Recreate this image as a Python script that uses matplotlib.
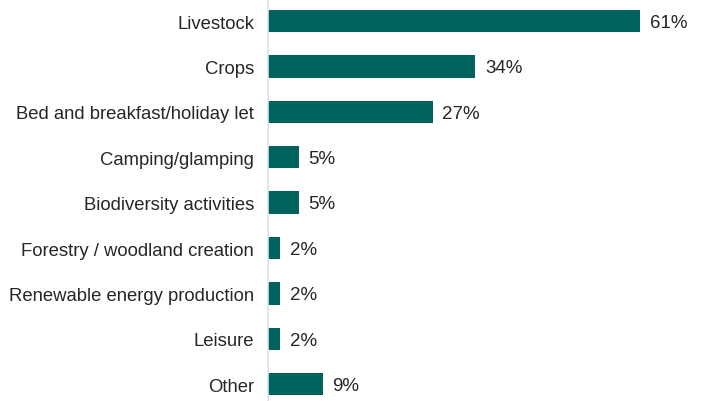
import matplotlib
matplotlib.use('Agg')
import matplotlib.pyplot as plt

categories = ['Livestock', 'Crops', 'Bed and breakfast/holiday let', 'Camping/glamping',
              'Biodiversity activities', 'Forestry / woodland creation',
              'Renewable energy production', 'Leisure', 'Other']
values = [61, 34, 27, 5, 5, 2, 2, 2, 9]
value_labels = ['61%', '34%', '27%', '5%', '5%', '2%', '2%', '2%', '9%']

plt.rcParams['font.family'] = ['Liberation Sans', 'DejaVu Sans']

fig = plt.figure(figsize=(7.02, 4.02), dpi=100)
ax = fig.add_axes([268 / 702, 0, 427 / 702, 1])

pos = list(range(len(categories)))
bars = ax.barh(pos, values, height=0.49, color='#00625C')
for b, lab in zip(bars, value_labels):
    ax.annotate(lab, (b.get_width(), b.get_y() + b.get_height() / 2),
                xytext=(7, -1), textcoords='offset points',
                va='center', ha='left', fontsize=13.5, color='#262626')

ax.set_xlim(0, 70)
ax.set_ylim(8.37, -0.485)
ax.set_yticks(pos)
ax.set_yticklabels(categories, fontsize=13.3, color='#262626')
ax.tick_params(axis='y', length=0, pad=10)
ax.set_xticks([])
for s in ['top', 'right', 'bottom']:
    ax.spines[s].set_visible(False)
ax.spines['left'].set_color('#D9E2EA')
ax.spines['left'].set_linewidth(1.2)

fig.savefig('out.png', dpi=100)
